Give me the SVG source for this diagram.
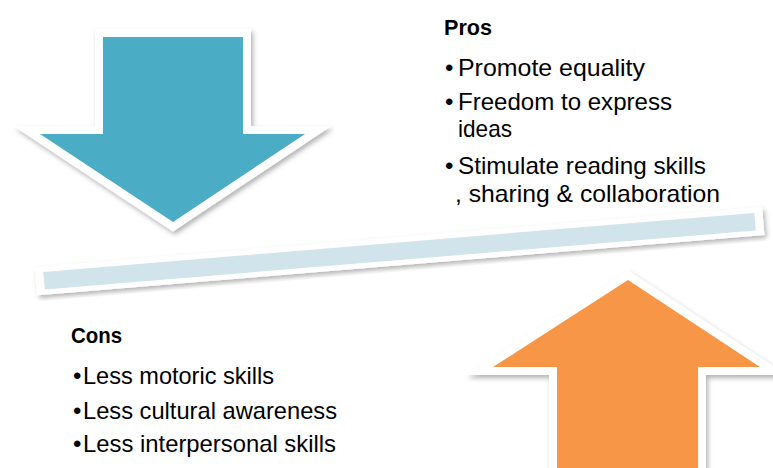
<svg xmlns="http://www.w3.org/2000/svg" width="773" height="468" viewBox="0 0 773 468">
<defs>
<style>
.arrow{stroke:#fff;stroke-width:16;stroke-linejoin:miter;stroke-miterlimit:6;paint-order:stroke;filter:url(#sh)}
.t{font-family:"Liberation Sans",Arial,sans-serif;font-size:24px;fill:#000}
.h{font-family:"Liberation Sans",Arial,sans-serif;font-size:22px;font-weight:bold;fill:#000}
</style>
<filter id="sh" x="-20%" y="-20%" width="140%" height="140%">
<feDropShadow dx="2" dy="3" stdDeviation="2.5" flood-color="#000" flood-opacity="0.3"/>
</filter>
</defs>
<rect width="773" height="468" fill="#fff"/>
<g id="blue-arrow">
<polygon class="arrow" fill="#4BACC6" points="103,37 243,37 243,134 305,134 173,222 40,134 103,134"/>
</g>
<g id="orange-arrow">
<polygon class="arrow" fill="#F79646" points="628,280 760,367 698,367 698,480 557,480 557,367 493,367"/>
</g>
<g id="bar" transform="translate(399.5,251.2) rotate(-4.74)">
<rect x="-365" y="-14" width="730" height="28" fill="#fff" filter="url(#sh)"/>
<rect x="-356.7" y="-8.8" width="713.4" height="17.6" fill="#D1E3EB"/>
</g>
<g id="pros">
<text class="h" x="444" y="35" textLength="48" lengthAdjust="spacingAndGlyphs">Pros</text>
<text class="t" x="445" y="76">•</text>
<text class="t" x="458" y="76" textLength="187" lengthAdjust="spacingAndGlyphs">Promote equality</text>
<text class="t" x="445" y="110">•</text>
<text class="t" x="458" y="110" textLength="214" lengthAdjust="spacingAndGlyphs">Freedom to express</text>
<text class="t" x="458" y="137" textLength="54" lengthAdjust="spacingAndGlyphs">ideas</text>
<text class="t" x="445" y="174">•</text>
<text class="t" x="458" y="174" textLength="248" lengthAdjust="spacingAndGlyphs">Stimulate reading skills</text>
<text class="t" x="455" y="202" textLength="265" lengthAdjust="spacingAndGlyphs">, sharing &amp; collaboration</text>
</g>
<g id="cons">
<text class="h" x="71" y="343" textLength="51" lengthAdjust="spacingAndGlyphs">Cons</text>
<text class="t" x="73" y="384">•</text>
<text class="t" x="83" y="384" textLength="191" lengthAdjust="spacingAndGlyphs">Less motoric skills</text>
<text class="t" x="73" y="419">•</text>
<text class="t" x="83" y="419" textLength="254" lengthAdjust="spacingAndGlyphs">Less cultural awareness</text>
<text class="t" x="73" y="452">•</text>
<text class="t" x="83" y="452" textLength="253" lengthAdjust="spacingAndGlyphs">Less interpersonal skills</text>
</g>
</svg>
